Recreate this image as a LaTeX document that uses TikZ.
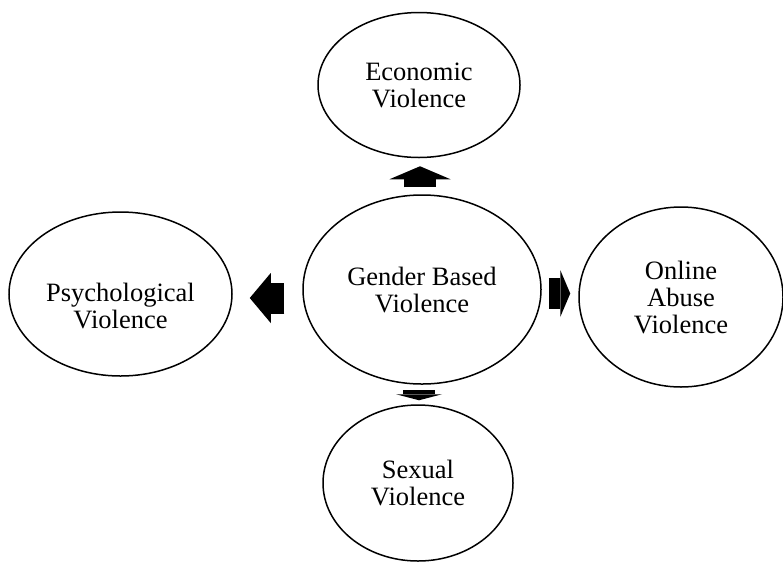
\documentclass[tikz,border=0pt]{standalone}
\usepackage{fontspec}
\setmainfont{Liberation Serif}
\usetikzlibrary{shapes.geometric,arrows.meta}
\newcommand\bubblefont{\fontsize{26.5}{27}\selectfont}

\begin{document}
\begin{tikzpicture}[x=1pt, y=-1pt,
    bubble/.style={ellipse, draw, line width=1.5pt, align=center, font=\bubblefont, inner sep=0pt},
    fat/.style={line width=#1, line cap=butt}]
                \useasboundingbox (0,0) rectangle (783,563);

                \node[bubble, minimum width=238pt, minimum height=189pt] (gbv) at (422,289.5) {Gender Based\\Violence};
                \node[bubble, minimum width=202pt, minimum height=145pt] (econ) at (419,85) {Economic\\Violence};
                \node[bubble, minimum width=223pt, minimum height=164pt] (psych) at (120.5,294) {};
                \node[align=center, font=\bubblefont, inner sep=0pt] (psychtext) at (120.5,305.5) {Psychological\\Violence};
                \node[bubble, minimum width=204pt, minimum height=180pt] (online) at (681,297) {Online\\Abuse\\Violence};
                \node[bubble, minimum width=190pt, minimum height=156pt] (sexual) at (418,483) {Sexual\\Violence};

                \draw[fat=32pt, -{Triangle[width=61pt, length=13pt, line width=0pt]}, shorten <=7pt, shorten >=8pt]
                    (gbv.north -| 420,0) -- (econ.south -| 420,0);
                \draw[fat=31pt, -{Triangle[width=50pt, length=21pt, line width=0pt]}, shorten <=18pt, shorten >=17pt]
                    (gbv.west |- 0,298) -- (psych.east |- 0,298);
                \draw[fat=31pt, -{Triangle[width=47pt, length=10pt, line width=0pt]}, shorten <=7pt, shorten >=8pt]
                    (gbv.east |- 0,293.5) -- (online.west |- 0,293.5);
                \draw[fat=32pt, -{Triangle[width=46pt, length=6pt, line width=0pt]}, shorten <=5pt, shorten >=4pt]
                    (gbv.south -| 419,0) -- (sexual.north -| 419,0);
\end{tikzpicture}
\end{document}
